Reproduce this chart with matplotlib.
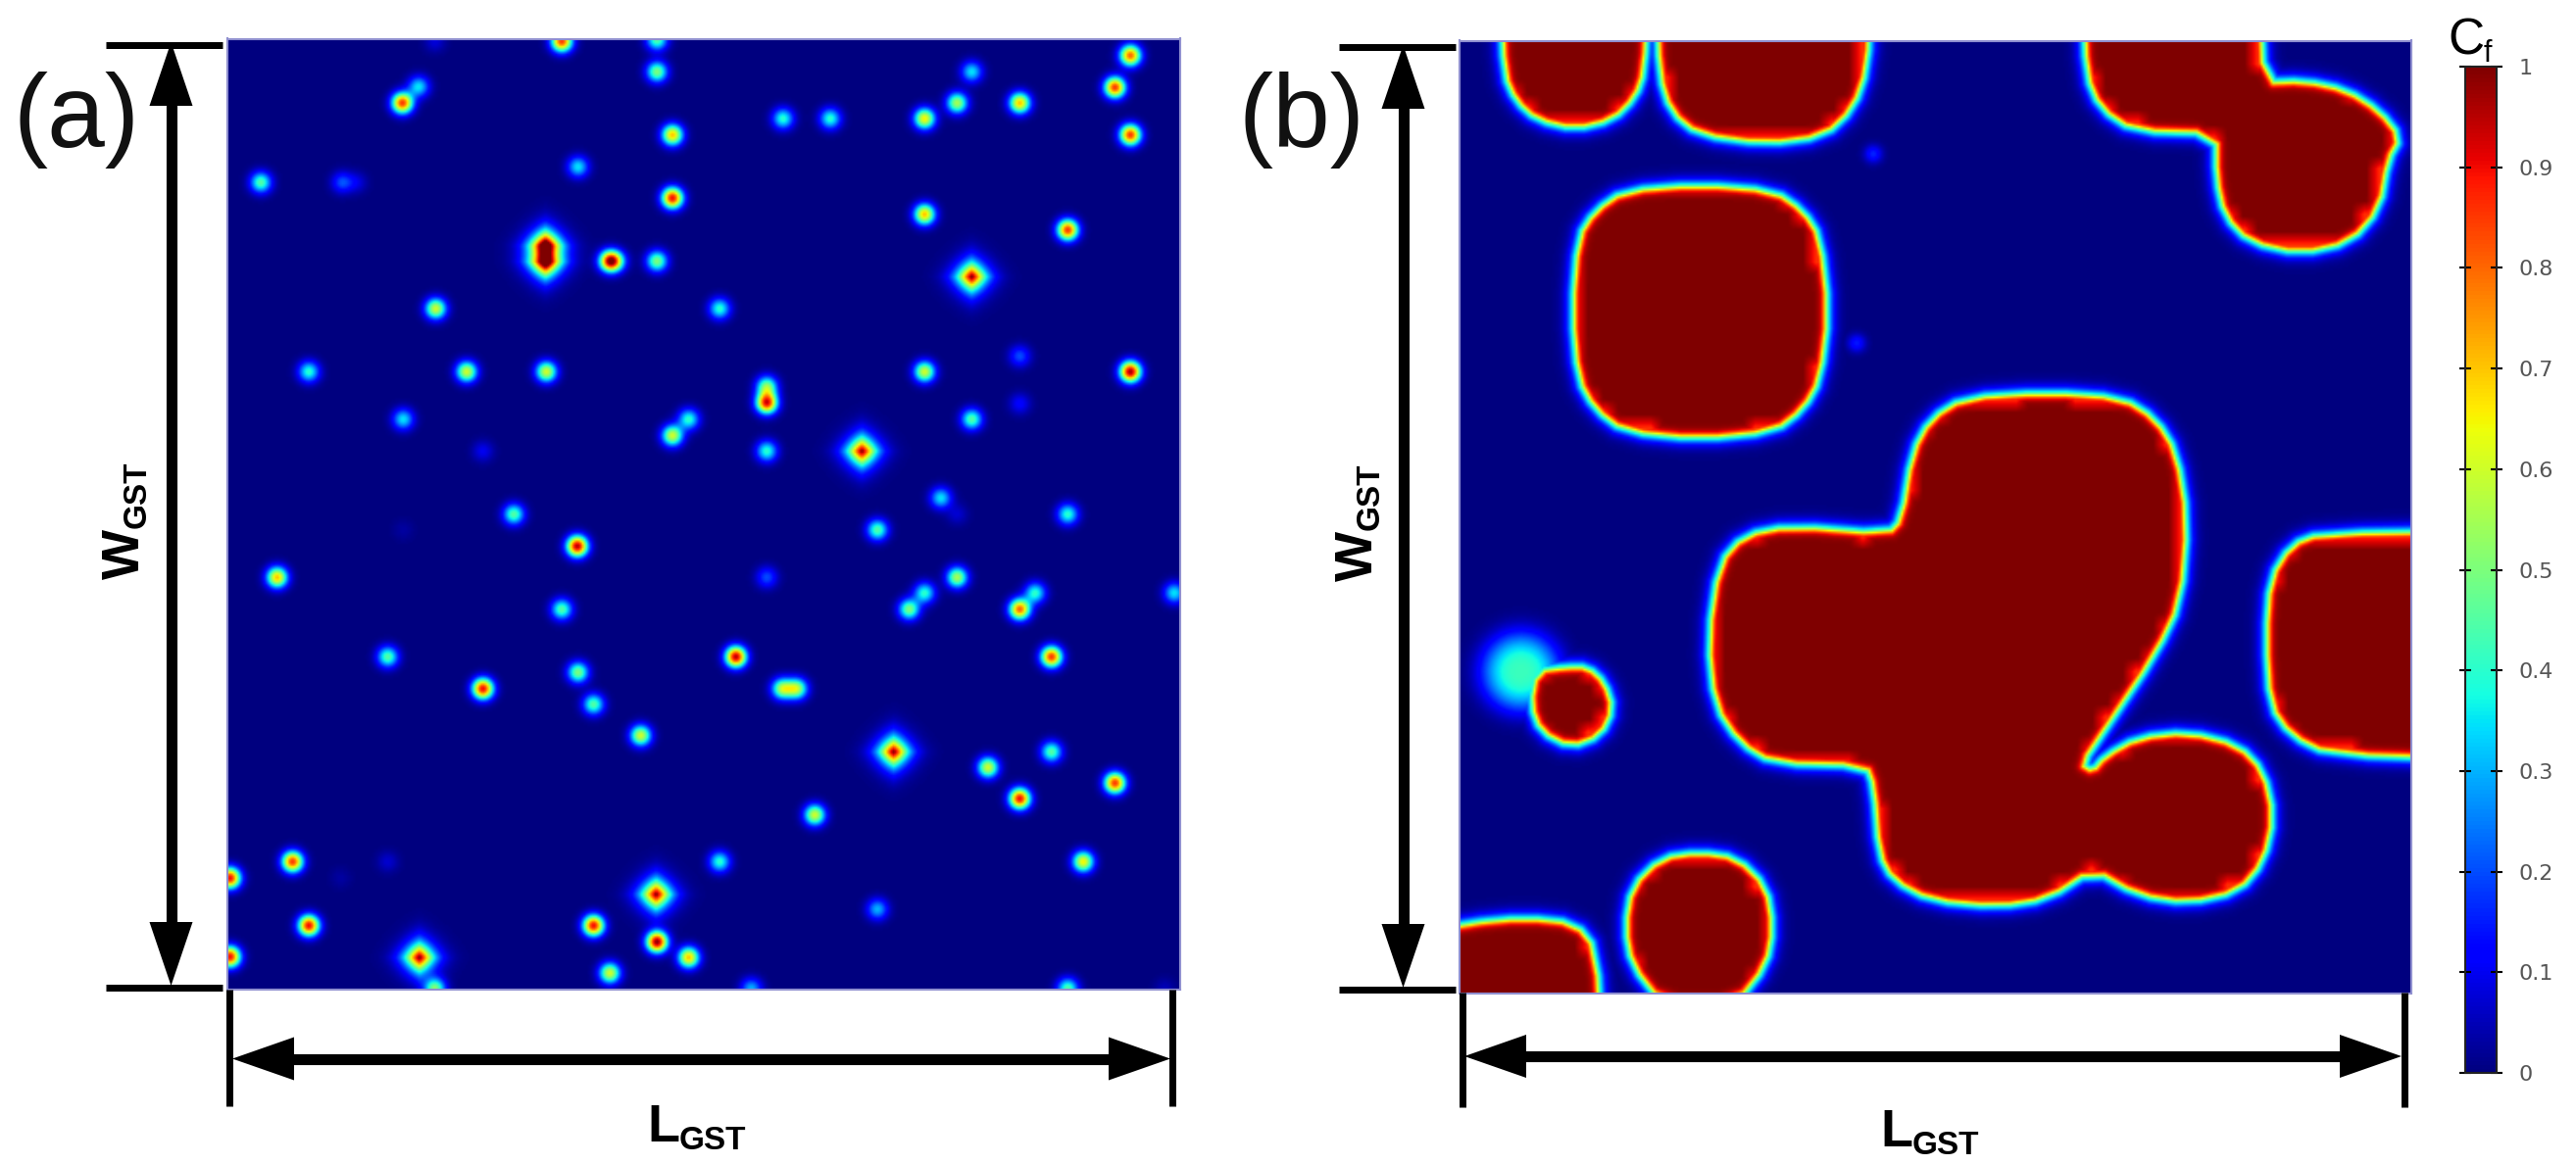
import matplotlib
matplotlib.use("Agg")
import matplotlib.pyplot as plt
from matplotlib.path import Path
from matplotlib.cm import ScalarMappable
from matplotlib.colors import Normalize
import numpy as np

W, H = 2628, 1189

# panel (a): nuclei
a_x = [689, 806, 533, 806, 1193, 1388, 1369, 513, 493, 1175, 1252, 961, 1019, 1135, 825, 1388, 709, 319, 419, 437,
       825, 1135, 1311, 669, 669, 748, 756, 806, 1193, 534, 883, 1252, 378, 572, 670, 1135, 1388, 941, 941, 1252,
       494, 1193, 845, 825, 592, 941, 1058, 1155, 1175, 630, 1311, 494, 1077, 708, 339, 941, 1175, 1135, 1271,
       1442, 1116, 1252, 689, 475, 903, 1291, 709, 592, 960, 978, 728, 786, 1097, 1291, 1213, 1369, 1252, 1000,
       358, 475, 883, 1330, 281, 417, 805, 1077, 378, 728, 806, 281, 514, 845, 748, 533, 922, 1311, 1430]
a_y = [55, 53, 55, 96, 96, 74, 117, 116, 138, 138, 138, 159, 159, 159, 181, 181, 224, 245, 245, 245,
       266, 288, 309, 330, 352, 351, 351, 351, 372, 415, 415, 479, 500, 500, 500, 500, 500, 520, 542, 543,
       564, 564, 564, 586, 607, 607, 607, 670, 692, 692, 692, 713, 713, 735, 777, 777, 777, 798, 798,
       798, 820, 820, 820, 884, 884, 884, 905, 927, 927, 927, 948, 990, 1012, 1012, 1033, 1054, 1075, 1097,
       1160, 1160, 1160, 1160, 1182, 1182, 1204, 1224, 1246, 1246, 1268, 1288, 1289, 1289, 1310, 1331, 1331, 1331, 1331]
a_peak = [.85, .45, .08, .5, .35, .8, .85, .35, .85, .55, .7, .4, .4, .65, .7, .85, .35, .45, .2, .08,
          .9, .7, .85, 1.0, 1.0, .85, .3, .5, 1.0, .6, .4, .2, .4, .6, .6, .6, .97, .5, .9, .12,
          .35, .45, .4, .6, .1, .4, 1.0, .35, .07, .45, .4, .03, .45, .95, .7, .2, .55, .4, .4,
          .35, .5, .8, .45, .45, .95, .85, .5, .9, .55, .55, .45, .6, 1.0, .45, .6, .85, .9, .6,
          .85, .07, .4, .65, .9, .03, 1.0, .3, .9, .9, .98, .9, 1.0, .7, .6, .5, .3, .45, .05]

# panel (b): grain outlines
b_grains = [
    [(272, 0), (276, 100), (290, 135), (315, 160), (360, 172), (405, 160), (432, 130), (443, 95), (447, 0)],
    [(460, 0), (463, 100), (477, 150), (510, 180), (590, 192), (660, 182), (695, 145), (712, 90), (715, 0)],
    [(975, 0), (978, 100), (995, 145), (1035, 175), (1135, 178), (1135, 240), (1145, 290), (1175, 325), (1235, 340),
     (1295, 325), (1330, 280), (1340, 215), (1355, 185), (1330, 150), (1290, 122), (1240, 110), (1190, 112), (1186, 0)],
    [(510, 250), (420, 258), (385, 285), (365, 320), (358, 420), (365, 510), (385, 550), (420, 580), (510, 590),
     (600, 580), (635, 550), (655, 510), (665, 420), (655, 320), (635, 285), (600, 258)],
    [(930, 530), (830, 537), (790, 565), (768, 610), (755, 700), (738, 720), (620, 710), (565, 722), (535, 760),
     (522, 860), (530, 950), (560, 1000), (600, 1027), (712, 1030), (722, 1060), (728, 1150), (745, 1185), (790, 1212),
     (870, 1220), (930, 1210), (985, 1170), (1040, 1205), (1100, 1215), (1160, 1200), (1190, 1160), (1202, 1100),
     (1190, 1040), (1160, 1005), (1100, 988), (1040, 995), (1000, 1020), (985, 1040), (970, 1030), (1000, 980),
     (1060, 880), (1090, 810), (1098, 700), (1085, 610), (1060, 565), (1020, 537)],
    [(350, 900), (315, 905), (308, 950), (320, 985), (355, 1005), (390, 990), (405, 955), (395, 920), (375, 900)],
    [(1460, 717), (1260, 720), (1225, 735), (1200, 780), (1195, 860), (1200, 950), (1225, 990), (1270, 1015), (1460, 1022)],
    [(150, 1265), (230, 1245), (300, 1238), (360, 1245), (385, 1280), (392, 1420), (150, 1420)],
    [(510, 1150), (465, 1157), (430, 1195), (422, 1250), (430, 1300), (465, 1350), (555, 1350), (590, 1300), (598, 1250),
     (590, 1195), (555, 1157)],
]
b_spot_x = [720, 700, 295]
b_spot_y = [207, 462, 905]
b_spot_peak = [.16, .15, .42]

cbar_ticks = [0, .1, .2, .3, .4, .5, .6, .7, .8, .9, 1]
cbar_labels = ["0", "0.1", "0.2", "0.3", "0.4", "0.5", "0.6", "0.7", "0.8", "0.9", "1"]

# scale from the picture coordinates above to image pixels
AX, AY = 972 / 1169, 970.5 / 1279
BX, BY = 971 / 1146, 972 / 1281


def panel_a_field():
    X, Y = np.meshgrid(np.linspace(279, 1448, 500), np.linspace(52, 1331, 500))
    Z = np.zeros_like(X)
    for x, y, p in zip(a_x, a_y, a_peak):
        dx = np.abs(X - x) * AX
        dy = np.abs(Y - y) * AY
        if p >= 1:
            # the big nuclei have a diamond halo
            r = (dx**1.35 + dy**1.35) ** (1 / 1.35)
            Z += p * np.exp(-(r / 15) ** 1.4)
        else:
            Z += p * np.exp(-(dx**2 + dy**2) / 10.5**2)
    return np.clip(Z, 0, 1)


def chaikin(pts, n=1):
    # round off the corners of an outline
    for _ in range(n):
        nxt = np.roll(pts, -1, axis=0)
        pts = np.column_stack([0.75 * pts + 0.25 * nxt, 0.25 * pts + 0.75 * nxt]).reshape(-1, 2)
    return pts


def signed_distance(q, outline):
    pts = chaikin(np.array(outline, float) * [BX, BY])
    best = np.full(len(q), np.inf)
    for p0, p1 in zip(pts, np.roll(pts, -1, axis=0)):
        seg = p1 - p0
        t = np.clip(((q - p0) @ seg) / (seg @ seg), 0, 1)
        best = np.minimum(best, np.hypot(*(q - p0 - t[:, None] * seg).T))
    best[~Path(pts).contains_points(q)] *= -1
    return best


def blur(a, n):
    kernel = np.ones(n) / n
    a = np.apply_along_axis(lambda v: np.convolve(v, kernel, mode="same"), 0, a)
    return np.apply_along_axis(lambda v: np.convolve(v, kernel, mode="same"), 1, a)


def panel_b_field():
    X, Y = np.meshgrid(np.linspace(222, 1368, 500), np.linspace(55, 1336, 500))
    q = np.column_stack([X.ravel() * BX, Y.ravel() * BY])
    d = np.max([signed_distance(q, g) for g in b_grains], axis=0).reshape(X.shape)
    Z = 0.5 * (1 + np.tanh((d + 1) / np.where(d + 1 < 0, 8.5, 5.0)))
    # the coarse mesh leaves a stepped red rim inside the grains
    cell = 8
    dc = np.repeat(np.repeat(d[cell // 2::cell, cell // 2::cell], cell, axis=0), cell, axis=1)
    dc = np.pad(dc, ((0, 500 - dc.shape[0]), (0, 500 - dc.shape[1])), mode="edge")
    rim = np.pad(blur((dc > 4).astype(float), 7)[4:-4, 4:-4], 4, mode="edge")
    Z = np.minimum(Z, 0.86 + 0.14 * rim)
    for x, y, p in zip(b_spot_x, b_spot_y, b_spot_peak):
        r = np.hypot((X - x) * BX, (Y - y) * BY)
        if p > .3:
            Z = np.maximum(Z, p * np.exp(-(r / 40) ** 3))
        else:
            Z = np.maximum(Z, p * np.exp(-(r / 9) ** 2))
    return Z


fig = plt.figure(figsize=(W / 100, H / 100), dpi=100)


def px_axes(x0, y0, x1, y1):
    return fig.add_axes([x0 / W, 1 - y1 / H, (x1 - x0) / W, (y1 - y0) / H])


ax_a = px_axes(232, 39.5, 1204, 1010)
ax_a.imshow(panel_a_field(), cmap="jet", vmin=0, vmax=1, extent=(279, 1448, 1331, 52), aspect="auto", interpolation="bilinear")
ax_b = px_axes(1489, 41.5, 2460, 1013.5)
ax_b.imshow(panel_b_field(), cmap="jet", vmin=0, vmax=1, extent=(222, 1368, 1336, 55), aspect="auto", interpolation="bilinear")
for ax in (ax_a, ax_b):
    ax.set_xticks([])
    ax.set_yticks([])
    for s in ax.spines.values():
        s.set_color("#9090d0")
        s.set_linewidth(1.5)

# colorbar
cax = px_axes(2515, 68, 2547, 1095)
cb = fig.colorbar(ScalarMappable(Normalize(0, 1), "jet"), cax=cax)
cb.set_ticks(cbar_ticks)
cb.set_ticklabels(cbar_labels)
cax.tick_params(axis="y", direction="inout", left=True, right=True, length=9, width=1.5, labelsize=16, labelcolor="#555555", pad=12)
cb.outline.set_linewidth(1.5)
cb.outline.set_edgecolor("#222222")

# overlay for dimension marks and labels, in image pixels
ov = fig.add_axes([0, 0, 1, 1], zorder=5)
ov.set_xlim(0, W)
ov.set_ylim(H, 0)
ov.axis("off")
ov.patch.set_alpha(0)


def hline(x0, x1, y, t=7):
    ov.plot([x0, x1], [y, y], color="k", lw=t * 0.72, solid_capstyle="butt")


def vline(x, y0, y1, t=7):
    ov.plot([x, x], [y0, y1], color="k", lw=t * 0.72, solid_capstyle="butt")


def double_arrow(x0, y0, x1, y1):
    if y0 == y1:
        ov.plot([x0 + 55, x1 - 55], [y0, y0], color="k", lw=8, solid_capstyle="butt")
        ov.fill([x0, x0 + 63, x0 + 63], [y0, y0 - 22, y0 + 22], color="k", lw=0)
        ov.fill([x1, x1 - 63, x1 - 63], [y0, y0 - 22, y0 + 22], color="k", lw=0)
    else:
        ov.plot([x0, x0], [y0 + 55, y1 - 55], color="k", lw=8, solid_capstyle="butt")
        ov.fill([x0, x0 - 22, x0 + 22], [y0, y0 + 65, y0 + 65], color="k", lw=0)
        ov.fill([x0, x0 - 22, x0 + 22], [y1, y1 - 65, y1 - 65], color="k", lw=0)


# panel a marks
hline(108, 227, 45.5)
hline(108, 227, 1007.5)
double_arrow(174.5, 43, 174.5, 1006)
vline(233.5, 1010, 1129)
vline(1196, 1010, 1129)
double_arrow(237, 1080.5, 1194, 1080.5)
# panel b marks
hline(1366, 1485, 48)
hline(1366, 1485, 1010)
double_arrow(1431.5, 46, 1431.5, 1008)
vline(1492, 1013, 1130)
vline(2453, 1013, 1130)
double_arrow(1494, 1078, 2450, 1078)

font = "Liberation Sans"
ov.text(14, 150, "(a)", fontsize=76, family=font, va="baseline", ha="left", color="#111111")
ov.text(1264, 150, "(b)", fontsize=76, family=font, va="baseline", ha="left", color="#111111")

for x, y in [(660, 1165), (1918, 1170)]:
    ov.text(x, y, "L", fontsize=39, family=font, weight="bold", va="baseline", ha="left")
    ov.text(x + 33, y + 8, "GST", fontsize=24, family=font, weight="bold", va="baseline", ha="left")
for x, y in [(142, 591), (1400, 593)]:
    ov.text(x, y, "W", fontsize=39, family=font, weight="bold", rotation=90, va="baseline", ha="left", rotation_mode="anchor")
    ov.text(x + 7, y - 52, "GST", fontsize=24, family=font, weight="bold", rotation=90, va="baseline", ha="left", rotation_mode="anchor")

ov.text(2497, 55, "C", fontsize=37, family=font, va="baseline", ha="left")
ov.text(2534, 63, "f", fontsize=22, family=font, va="baseline", ha="left")

fig.savefig("out.png", dpi=100)
